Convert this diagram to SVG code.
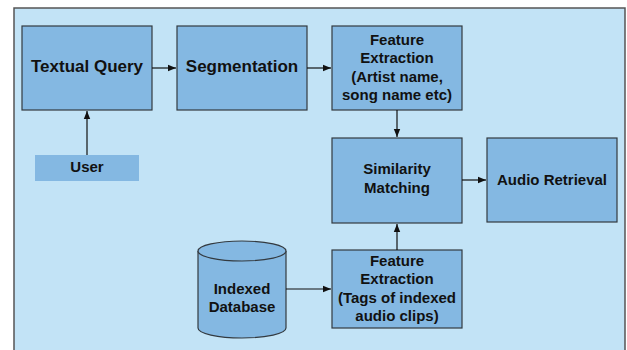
<svg xmlns="http://www.w3.org/2000/svg" width="627" height="350" viewBox="0 0 627 350">
  <style>
    .box { fill: #84b8e2; stroke: #333a40; stroke-width: 1.2; }
    .plain { fill: #84b8e2; stroke: none; }
    .lbl { font-family: "Liberation Sans", Arial, sans-serif; font-weight: bold; fill: #111; text-anchor: middle; }
    .big { font-size: 17px; }
    .mid { font-size: 15px; }
    .edge { stroke: #111; stroke-width: 1.2; fill: none; marker-end: url(#arr); }
  </style>
  <defs>
    <marker id="arr" viewBox="0 0 10 10" refX="10" refY="5" markerWidth="8" markerHeight="8" markerUnits="userSpaceOnUse" orient="auto">
      <path d="M0,1 L10,5 L0,9 Z" fill="#111"/>
    </marker>
  </defs>

  <rect width="627" height="350" fill="#ffffff"/>
  <!-- outer container -->
  <rect id="container" x="14" y="8" width="611" height="350" fill="#c2e3f6" stroke="#555" stroke-width="1.5"/>

  <g id="textual-query">
    <rect class="box" x="22" y="26" width="130" height="84"/>
    <text class="lbl big" x="87" y="72">Textual Query</text>
  </g>
  <g id="segmentation">
    <rect class="box" x="177" y="26" width="130" height="84"/>
    <text class="lbl big" x="242" y="72">Segmentation</text>
  </g>
  <g id="feature-extraction-query">
    <rect class="box" x="332" y="26" width="130" height="84"/>
    <text class="lbl mid" x="397" y="44.5">Feature</text>
    <text class="lbl mid" x="397" y="62.5">Extraction</text>
    <text class="lbl mid" x="397" y="81.5">(Artist name,</text>
    <text class="lbl mid" x="397" y="99.5">song name etc)</text>
  </g>
  <g id="user">
    <rect class="plain" x="35" y="155" width="104" height="26"/>
    <text class="lbl mid" x="87" y="171.5">User</text>
  </g>
  <g id="similarity-matching">
    <rect class="box" x="332" y="138" width="130" height="85"/>
    <text class="lbl mid" x="397" y="173.5">Similarity</text>
    <text class="lbl mid" x="397" y="193">Matching</text>
  </g>
  <g id="audio-retrieval">
    <rect class="box" x="487" y="138" width="130" height="84"/>
    <text class="lbl mid" x="552" y="184.5">Audio Retrieval</text>
  </g>
  <g id="indexed-database">
    <path class="box" d="M198,251 L198,328 A44,10 0 0 0 286,328 L286,251"/>
    <ellipse class="box" cx="242" cy="251" rx="44" ry="10"/>
    <text class="lbl mid" x="242" y="293.5">Indexed</text>
    <text class="lbl mid" x="242" y="311.5">Database</text>
  </g>
  <g id="feature-extraction-index">
    <rect class="box" x="332" y="250" width="130" height="78"/>
    <text class="lbl mid" x="397" y="265.5">Feature</text>
    <text class="lbl mid" x="397" y="283.5">Extraction</text>
    <text class="lbl mid" x="397" y="302.5">(Tags of indexed</text>
    <text class="lbl mid" x="397" y="320.5">audio clips)</text>
  </g>

  <g id="connectors">
    <line class="edge" x1="152" y1="68" x2="176" y2="68"/>
    <line class="edge" x1="307" y1="68" x2="331" y2="68"/>
    <line class="edge" x1="87" y1="155" x2="87" y2="111"/>
    <line class="edge" x1="397" y1="110" x2="397" y2="137"/>
    <line class="edge" x1="462" y1="180" x2="486" y2="180"/>
    <line class="edge" x1="397" y1="250" x2="397" y2="224"/>
    <line class="edge" x1="286" y1="289" x2="331" y2="289"/>
  </g>
</svg>
